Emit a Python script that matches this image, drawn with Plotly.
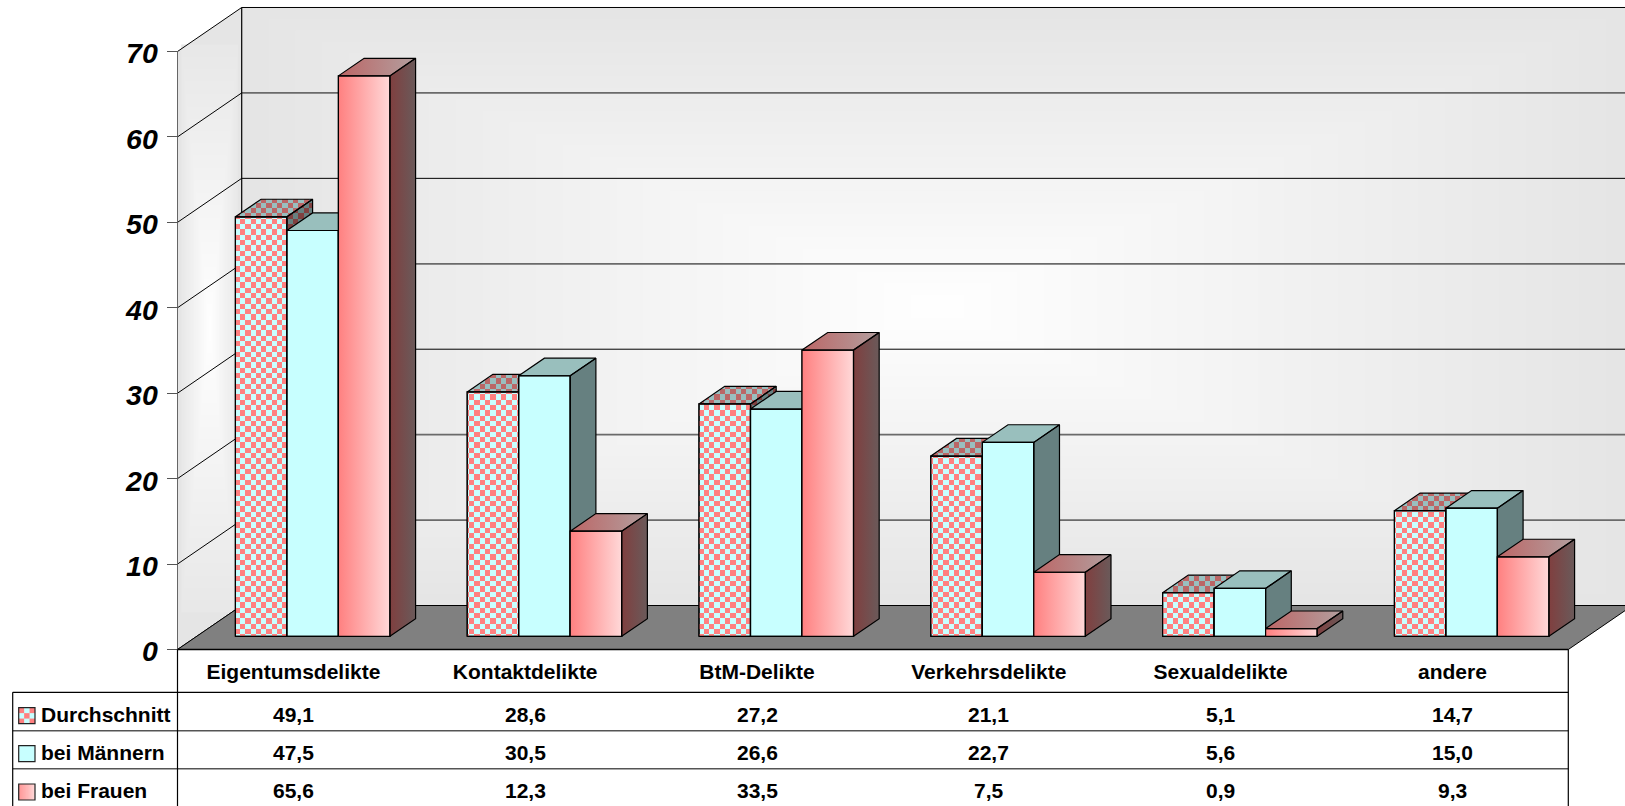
import math
import plotly.graph_objects as go

# ---------- data ----------
categories = ["Eigentumsdelikte", "Kontaktdelikte", "BtM-Delikte",
              "Verkehrsdelikte", "Sexualdelikte", "andere"]
durchschnitt = [49.1, 28.6, 27.2, 21.1, 5.1, 14.7]
maenner = [47.5, 30.5, 26.6, 22.7, 5.6, 15.0]
frauen = [65.6, 12.3, 33.5, 7.5, 0.9, 9.3]
series_names = ["Durchschnitt", "bei Männern", "bei Frauen"]
y_ticks = [0, 10, 20, 30, 40, 50, 60, 70]

# ---------- layout geometry (pixels of the 1625x806 page) ----------
W, H = 1625, 806
X0, XR = 177.5, 1568.3
Y0 = 649.5
CAT_W = (XR - X0) / 6
UNIT = 8.543
FONT = "Liberation Sans"
CELL = 5.33


def X(px):
    return (px - X0) / CAT_W


def Y(py):
    return (Y0 - py) / UNIT


def PX(x):
    return x * CAT_W + X0


def PY(y):
    return Y0 - y * UNIT


WDX = 64.2 / CAT_W
WDY = 44.0 / UNIT
BAR_W = 51.5 / CAT_W
F_FRONT, F_DEPTH = 0.30, 0.40

x_range = [X(0), X(W)]
y_range = [Y(H), Y(0)]


def poly_path(pts):
    return "M" + "L".join(f"{a},{b}" for a, b in pts) + "Z"


def clip(poly, window):
    area = sum(window[i][0] * window[(i + 1) % len(window)][1]
               - window[(i + 1) % len(window)][0] * window[i][1]
               for i in range(len(window)))
    sign = 1 if area > 0 else -1
    out = poly
    for i in range(len(window)):
        a, b = window[i], window[(i + 1) % len(window)]
        side = lambda p: sign * ((b[0] - a[0]) * (p[1] - a[1]) - (b[1] - a[1]) * (p[0] - a[0]))
        cur, out = out, []
        for k in range(len(cur)):
            p, q = cur[k], cur[(k + 1) % len(cur)]
            sp, sq = side(p), side(q)
            if sp >= 0:
                out.append(p)
            if sp * sq < 0:
                t = sp / (sp - sq)
                out.append((p[0] + t * (q[0] - p[0]), p[1] + t * (q[1] - p[1])))
        if not out:
            return []
    return out


def checker(face):
    """Device-aligned checker pattern: cell edges snap to whole page pixels."""
    xs, ys = [], []
    px_vals = [PX(p[0]) for p in face]
    py_vals = [PY(p[1]) for p in face]
    for ix in range(math.floor(min(px_vals) / CELL) - 1, math.floor(max(px_vals) / CELL) + 2):
        for iy in range(math.floor(min(py_vals) / CELL) - 1, math.floor(max(py_vals) / CELL) + 2):
            if (ix + iy) % 2:
                continue
            x1, x2 = X(round(ix * CELL)), X(round((ix + 1) * CELL))
            y1, y2 = Y(round(iy * CELL)), Y(round((iy + 1) * CELL))
            piece = clip([(x1, y1), (x2, y1), (x2, y2), (x1, y2)], face)
            if len(piece) >= 3:
                xs += [p[0] for p in piece] + [piece[0][0], None]
                ys += [p[1] for p in piece] + [piece[0][1], None]
    return xs, ys


shapes = []


def gray(level):
    return f"rgb({level},{level},{level})"


def add_poly(pts, fill=None, line=None, width=0, layer="below"):
    shapes.append(dict(type="path", path=poly_path(pts), xref="x", yref="y", layer=layer,
                       fillcolor=fill or "rgba(0,0,0,0)",
                       line=dict(color=line or "rgba(0,0,0,0)", width=width)))


def add_rect(x1, x2, y1, y2, fill):
    shapes.append(dict(type="rect", xref="x", yref="y", layer="below", x0=x1, x1=x2, y0=y1, y1=y2,
                       fillcolor=fill, line=dict(width=0)))


def add_line(x1, y1, x2, y2, color="black", width=1.0, layer="below"):
    shapes.append(dict(type="line", xref="x", yref="y", layer=layer, x0=x1, y0=y1, x1=x2, y1=y2,
                       line=dict(color=color, width=width)))


# back wall: stepped rectangular gradient
top = y_ticks[-1]
add_rect(WDX, 6 + WDX, WDY, top + WDY, gray(229))
cx_back, cy_back = 3 + WDX, WDY + top / 2
for i in range(1, 27):
    s = 1 - i / 26
    add_rect(cx_back - 3 * s, cx_back + 3 * s,
             cy_back - (top / 2) * s, cy_back + (top / 2) * s, gray(229 + i))

# side wall: same gradient, nested in its bounding box
add_poly([(0, 0), (WDX, WDY), (WDX, top + WDY), (0, top)], fill=gray(229))
cx_side, cy_side = WDX / 2, (top + WDY) / 2
for i in range(3, 27):
    s = 1 - i / 26
    add_rect(cx_side - WDX / 2 * s, cx_side + WDX / 2 * s,
             cy_side - (top + WDY) / 2 * s, cy_side + (top + WDY) / 2 * s, gray(229 + i))

# grid lines on walls
soft_lines = (10, 20, 40, 60)
for t in y_ticks:
    add_line(WDX, t + WDY, 6 + WDX, t + WDY,
             color="#6a6a6a" if t in soft_lines else "black",
             width=1.8 if t in soft_lines else 1.0)
    add_line(0, t, WDX, t + WDY)
add_line(WDX, WDY, WDX, top + WDY, width=1.2)
add_line(0, 0, 0, top, color="#666666")

# floor
add_poly([(0, 0), (6, 0), (6 + WDX, WDY), (WDX, WDY)], fill="#808080", line="black", width=1.0)

# ---------- traces ----------
fig = go.Figure()
series_values = [durchschnitt, maenner, frauen]
centers = [i + 0.5 for i in range(len(categories))]
base_front = F_FRONT * WDY
dx, dy = F_DEPTH * WDX, F_DEPTH * WDY
styles = [
    dict(front="#C8FFFF", side="#668080", top="#99BFBF",
         cell_front="#FF8080", cell_side="#804040", cell_top="#BB6666"),
    dict(front="#C8FFFF", side="#668080", top="#99BFBD"),
    dict(front="#FF8080", grad_front=("#FF8080", "#FFD8D8"),
         grad_top=("#BC6666", "#B39F9F"), grad_side=("#803F3F", "#6A5A5A")),
]

for j, (name, vals, st) in enumerate(zip(series_names, series_values, styles)):
    suffix = "" if j == 0 else str(j + 1)
    ax = dict(xaxis="x" + suffix, yaxis="y" + suffix)
    xs = [c + (j - 1) * BAR_W + F_FRONT * WDX for c in centers]
    fig.add_trace(go.Bar(x=xs, y=vals, base=[base_front] * len(vals), width=BAR_W, name=name,
                         marker=dict(color=st["front"], line=dict(color="black", width=1.2)),
                         showlegend=False, **ax))
    for xc, v in zip(xs, vals):
        xl, xr = xc - BAR_W / 2, xc + BAR_W / 2
        t = base_front + v
        b = base_front
        side = [(xr, t), (xr + dx, t + dy), (xr + dx, b + dy), (xr, b)]
        roof = [(xl, t), (xl + dx, t + dy), (xr + dx, t + dy), (xr, t)]
        front = [(xl, b), (xr, b), (xr, t), (xl, t)]

        def filled(pts, **kw):
            fig.add_trace(go.Scatter(x=[p[0] for p in pts] + [pts[0][0]],
                                     y=[p[1] for p in pts] + [pts[0][1]],
                                     mode="lines", fill="toself", hoverinfo="skip",
                                     showlegend=False, **kw, **ax))

        def outline(pts):
            fig.add_trace(go.Scatter(x=[p[0] for p in pts] + [pts[0][0]],
                                     y=[p[1] for p in pts] + [pts[0][1]],
                                     mode="lines", line=dict(color="black", width=1.2),
                                     hoverinfo="skip", showlegend=False, **ax))

        def cells(face, color):
            cx_, cy_ = checker(face)
            fig.add_trace(go.Scatter(x=cx_, y=cy_, mode="lines", fill="toself", fillcolor=color,
                                     line=dict(width=0), hoverinfo="skip", showlegend=False, **ax))

        if "grad_front" in st:
            for pts, g in ((side, st["grad_side"]), (roof, st["grad_top"]), (front, st["grad_front"])):
                filled(pts, line=dict(width=0),
                       fillgradient=dict(type="horizontal", colorscale=[[0, g[0]], [1, g[1]]]))
        else:
            filled(side, line=dict(width=0), fillcolor=st["side"])
            filled(roof, line=dict(width=0), fillcolor=st["top"])
            if "cell_front" in st:
                cells(side, st["cell_side"])
                cells(roof, st["cell_top"])
                cells(front, st["cell_front"])
        outline(side)
        outline(roof)
        outline(front)

# ---------- data table ----------
row_lines = [692.3, 730.7, 768.7]
row_text = [714, 752.3, 790.3]
for k, py in enumerate(row_lines):
    add_line(X(12.7), Y(py), X(XR), Y(py), color="black" if k == 0 else "#555555",
             width=1.2 if k == 0 else 1.6, layer="above")
add_line(X(X0), Y(Y0), X(XR), Y(Y0), width=1.6, layer="above")
add_line(X(X0), Y(Y0), X(X0), Y(H), width=1.2, layer="above")
add_line(X(XR), Y(Y0), X(XR), Y(H), width=1.2, layer="above")
add_line(X(12.7), Y(692.3), X(12.7), Y(H), width=1.2, layer="above")

annotations = []
for name, vals, py in zip(series_names, series_values, row_text):
    annotations.append(dict(x=X(40), y=Y(py), xref="x", yref="y", text=name, showarrow=False,
                            xanchor="left", yanchor="middle", borderpad=0,
                            font=dict(family=FONT, size=21, color="black", weight="bold")))
    for c, v in zip(centers, vals):
        annotations.append(dict(x=c, y=Y(py), xref="x", yref="y", text=f"{v:.1f}".replace(".", ","),
                                showarrow=False, xanchor="center", yanchor="middle",
                                font=dict(family=FONT, size=21, color="black", weight="bold")))

# legend keys
key_x = (18.7, 35.0)
key_y = [707.7, 745.7, 784.0]
key_size = 16
add_poly([(X(key_x[0]), Y(key_y[0])), (X(key_x[1]), Y(key_y[0])),
          (X(key_x[1]), Y(key_y[0] + key_size)), (X(key_x[0]), Y(key_y[0] + key_size))],
         fill="#C8FFFF", layer="above")
cell = (key_x[1] - key_x[0]) / 3
for a in range(3):
    for b in range(3):
        if (a + b) % 2 == 0:
            add_poly([(X(key_x[0] + a * cell), Y(key_y[0] + b * cell)),
                      (X(key_x[0] + (a + 1) * cell), Y(key_y[0] + b * cell)),
                      (X(key_x[0] + (a + 1) * cell), Y(key_y[0] + (b + 1) * cell)),
                      (X(key_x[0] + a * cell), Y(key_y[0] + (b + 1) * cell))],
                     fill="#FF8080", layer="above")
add_poly([(X(key_x[0]), Y(key_y[1])), (X(key_x[1]), Y(key_y[1])),
          (X(key_x[1]), Y(key_y[1] + key_size)), (X(key_x[0]), Y(key_y[1] + key_size))],
         fill="#C8FFFF", layer="above")
steps = 16
for a in range(steps):
    g = 128 + int((216 - 128) * a / (steps - 1))
    xa = key_x[0] + (key_x[1] - key_x[0]) * a / steps
    xb = key_x[0] + (key_x[1] - key_x[0]) * (a + 1) / steps
    add_poly([(X(xa), Y(key_y[2])), (X(xb), Y(key_y[2])),
              (X(xb), Y(key_y[2] + key_size)), (X(xa), Y(key_y[2] + key_size))],
             fill=f"rgb(255,{g},{g})", layer="above")
for ky in key_y:
    add_poly([(X(key_x[0]), Y(ky)), (X(key_x[1]), Y(ky)),
              (X(key_x[1]), Y(ky + key_size)), (X(key_x[0]), Y(ky + key_size))],
             line="#222222", width=1.2, layer="above")

hidden = dict(visible=False, range=x_range, fixedrange=True)
hidden_y = dict(visible=False, range=y_range, fixedrange=True)
fig.update_layout(
    width=W, height=H, margin=dict(l=0, r=0, t=0, b=0, pad=0),
    paper_bgcolor="white", plot_bgcolor="white", barmode="overlay", showlegend=False,
    shapes=shapes, annotations=annotations,
    xaxis=dict(range=x_range, domain=[0, 1], anchor="free", position=(H - Y0) / H,
               tickmode="array", tickvals=centers, ticktext=categories,
               ticks="outside", ticklen=3, tickcolor="rgba(0,0,0,0)",
               tickfont=dict(family=FONT, size=21, color="black", weight="bold"),
               showgrid=False, zeroline=False, showline=False, fixedrange=True),
    yaxis=dict(range=y_range, domain=[0, 1], anchor="free", position=X0 / W,
               tickmode="array", tickvals=y_ticks, ticks="outside", ticklen=11, tickcolor="#555555",
               tickwidth=1.2, ticklabelstandoff=3, ticklabelshift=2,
               tickfont=dict(family=FONT, size=28.5, color="black", weight="bold", style="italic"),
               showgrid=False, zeroline=False, showline=False, fixedrange=True),
    xaxis2=dict(hidden, overlaying="x", anchor="y2"),
    yaxis2=dict(hidden_y, overlaying="y", anchor="x2"),
    xaxis3=dict(hidden, overlaying="x", anchor="y3"),
    yaxis3=dict(hidden_y, overlaying="y", anchor="x3"),
)

fig.write_html("out.html", config=dict(displayModeBar=False),
               post_script="document.body.style.margin='0';document.body.style.overflow='hidden';")
